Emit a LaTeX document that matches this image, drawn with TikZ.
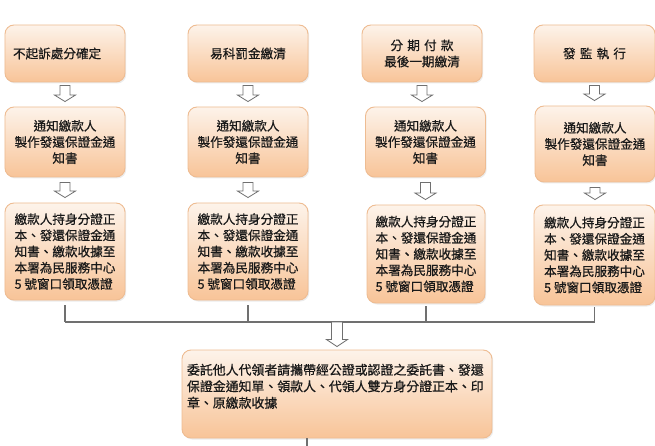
\documentclass[tikz,border=0pt]{standalone}
\usepackage{fontspec}
\setmainfont{Noto Sans CJK TC}[FakeBold=0.6]
\usetikzlibrary{calc,shadows}
\definecolor{boxtop}{RGB}{253,243,234}
\definecolor{boxbot}{RGB}{248,196,152}
\definecolor{boxline}{RGB}{238,188,146}
\definecolor{conn}{RGB}{112,112,112}
\definecolor{txt}{RGB}{25,25,25}
\newcommand{\hollowdown}[7]{%
  % #1 from, #2 to, #3 top gap, #4 bottom gap, #5 shaft half, #6 head half, #7 head height
  \draw[harrow] let \p1=(#1), \p2=(#2) in
    (\x1-#5,\y1-#3) -- (\x1+#5,\y1-#3) -- (\x1+#5,\y2+#4+#7) -- (\x1+#6,\y2+#4+#7)
    -- (\x1,\y2+#4) -- (\x1-#6,\y2+#4+#7) -- (\x1-#5,\y2+#4+#7) -- cycle;}
\begin{document}
\begin{tikzpicture}[x=1bp,y=-1bp,
  flowbox/.style={draw=boxline, line width=0.9bp, rounded corners=9bp,
    top color=boxtop, bottom color=boxbot, text=txt,
    drop shadow={opacity=0.15, shadow xshift=1.2bp, shadow yshift=-1.5bp},
    font=\fontsize{12.6bp}{16.2bp}\selectfont, minimum width=120bp, inner xsep=8bp, inner ysep=3bp},
  harrow/.style={draw=conn, fill=white, line width=0.8bp, line join=miter},
  conline/.style={draw=conn, line width=1.1bp}]
\useasboundingbox (0,0) rectangle (655,446);
\fill[white] (0,0) rectangle (655,446);
% row 1
\node[flowbox, minimum height=57bp, text width=104bp, align=left] (b1) at (65,53.5) {不起訴處分確定};
\node[flowbox, minimum height=57bp, text width=104bp, align=center] (b2) at (248,53.5) {易科罰金繳清};
\node[flowbox, minimum height=57bp, text width=104bp, align=center] (b3) at (422,53.5) {分 期 付 款\\最後一期繳清};
\node[flowbox, minimum height=57bp, minimum width=121bp, text width=104bp, align=center] (b4) at (594.5,53.5) {發 監 執 行};
% row 2
\node[flowbox, minimum height=70bp, text width=104bp, align=center] (m1) at (65,142) {通知繳款人\\製作發還保證金通\\知書};
\node[flowbox, minimum height=70bp, text width=104bp, align=center] (m2) at (248,142) {通知繳款人\\製作發還保證金通\\知書};
\node[flowbox, minimum height=70bp, minimum width=119bp, text width=104bp, align=center] (m3) at (425.5,142) {通知繳款人\\製作發還保證金通\\知書};
\node[flowbox, minimum height=76bp, text width=104bp, align=center] (m4) at (595,144) {通知繳款人\\製作發還保證金通\\知書};
% row 3
\node[flowbox, minimum height=97bp, align=left] (c1) at (65,251.5) {繳款人持身分證正\\本、發還保證金通\\知書、繳款收據至\\本署為民服務中心\\5 號窗口領取憑證};
\node[flowbox, minimum height=97bp, align=left] (c2) at (248,251.5) {繳款人持身分證正\\本、發還保證金通\\知書、繳款收據至\\本署為民服務中心\\5 號窗口領取憑證};
\node[flowbox, minimum height=98bp, minimum width=118bp, align=left] (c3) at (426,254) {繳款人持身分證正\\本、發還保證金通\\知書、繳款收據至\\本署為民服務中心\\5 號窗口領取憑證};
\node[flowbox, minimum height=100bp, minimum width=121bp, align=left] (c4) at (594.5,255) {繳款人持身分證正\\本、發還保證金通\\知書、繳款收據至\\本署為民服務中心\\5 號窗口領取憑證};
% bottom
\node[flowbox, minimum height=88bp, minimum width=310bp, text width=300bp, inner xsep=5bp, align=left,
  font=\fontsize{12.9bp}{16.5bp}\selectfont] (d) at (337,394)
  {委託他人代領者請攜帶經公證或認證之委託書、發還\\保證金通知單、領款人、代領人雙方身分證正本、印\\章、原繳款收據\\\mbox{}};
% hollow arrows row1->row2
\hollowdown{b1.south}{m1.north}{3bp}{5bp}{5bp}{10.5bp}{6.5bp}
\hollowdown{b2.south}{m2.north}{3bp}{5bp}{5bp}{10.5bp}{6.5bp}
\hollowdown{b3.south}{m3.north}{3bp}{5bp}{5bp}{10.5bp}{6.5bp}
\hollowdown{b4.south}{m4.north}{3bp}{5bp}{5bp}{10.5bp}{6.5bp}
% row2->row3
\hollowdown{m1.south}{c1.north}{5bp}{5bp}{5bp}{10.5bp}{6.5bp}
\hollowdown{m2.south}{c2.north}{5bp}{5bp}{5bp}{10.5bp}{6.5bp}
\hollowdown{m3.south}{c3.north}{5bp}{5bp}{5bp}{10.5bp}{6.5bp}
\hollowdown{m4.south}{c4.north}{5bp}{5bp}{5bp}{10.5bp}{6.5bp}
% joining lines
\coordinate (j) at (337,322);
\draw[conline] ([yshift=-5bp]c1.south) -- (c1.south |- j);
\draw[conline] ([yshift=-5bp]c2.south) -- (c2.south |- j);
\draw[conline] ([yshift=-3bp]c3.south) -- (c3.south |- j);
\draw[conline] ([yshift=-2bp]c4.south) -- (c4.south |- j);
\draw[conline] (c1.south |- j) -- (c4.south |- j);
\hollowdown{d.north |- j}{d.north}{0bp}{3bp}{5.5bp}{10.5bp}{7bp}
% tail
\coordinate (tail) at (307,446);
\draw[conline] (d.south -| tail) -- (tail);
\end{tikzpicture}
\end{document}
